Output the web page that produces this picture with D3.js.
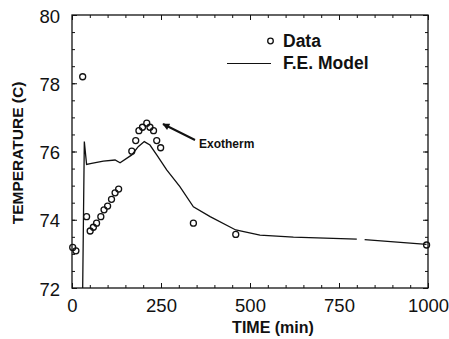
<!DOCTYPE html>
<html><head><meta charset="utf-8">
<script src="https://cdn.jsdelivr.net/npm/d3@7/dist/d3.min.js"></script>
<style>body{margin:0;background:#fff}svg{display:block}text{font-family:"Liberation Sans",Arial,sans-serif;fill:#111}</style>
</head><body>
<script>
const dataTime = [2, 11, 30, 41, 51, 60, 69, 81, 90, 100, 111, 121, 131, 168, 179, 188, 198, 210, 219, 229, 238, 249, 341, 460, 996];
const dataTemp = [73.19, 73.09, 78.19, 74.09, 73.67, 73.78, 73.9, 74.09, 74.29, 74.4, 74.6, 74.79, 74.9, 76.01, 76.32, 76.61, 76.71, 76.83, 76.71, 76.61, 76.32, 76.11, 73.9, 73.57, 73.26];
const modelTime = [30, 34.6, 41, 55, 88, 121, 135, 168, 186, 203, 219, 238, 266, 303, 341, 388, 460, 528, 622, 800, null, 822, 996];
const modelTemp = [72.0, 76.29, 75.62, 75.65, 75.72, 75.75, 75.67, 75.9, 76.14, 76.29, 76.19, 75.9, 75.46, 74.97, 74.38, 74.09, 73.70, 73.55, 73.49, 73.43, null, 73.42, 73.28];
const xTicks = [0, 250, 500, 750, 1000];
const yTicks = [72, 74, 76, 78, 80];
const xMinor = d3.range(0, 1001, 50);
const yMinor = d3.range(72, 80.01, 0.5);

const W = 449, H = 339;
const FONT = '"Liberation Sans",Arial,sans-serif';
const svg = d3.select("body").append("svg").attr("width", W).attr("height", H);
const x = d3.scaleLinear().domain([0, 1000]).range([72, 428]);
const y = d3.scaleLinear().domain([72, 80]).range([288, 15]);

const g = svg.append("g");
g.append("rect").attr("x", x(0)).attr("y", y(80)).attr("width", x(1000) - x(0)).attr("height", y(72) - y(80))
  .attr("fill", "none").attr("stroke", "#111").attr("stroke-width", 1.3);

function ticksAxis(axis, tr, vals, size) {
  const a = g.append("g").attr("transform", tr).call(axis.tickValues(vals).tickSize(size).tickFormat(""));
  a.select(".domain").remove();
  a.selectAll("line").attr("stroke", "#111").attr("stroke-width", 1);
}
ticksAxis(d3.axisBottom(x), `translate(0,${y(72)})`, xMinor, -3);
ticksAxis(d3.axisTop(x), `translate(0,${y(80)})`, xMinor, -3);
ticksAxis(d3.axisLeft(y), `translate(${x(0)},0)`, yMinor, -3);
ticksAxis(d3.axisRight(y), `translate(${x(1000)},0)`, yMinor, -3);
ticksAxis(d3.axisBottom(x), `translate(0,${y(72)})`, xTicks, -5);
ticksAxis(d3.axisTop(x), `translate(0,${y(80)})`, xTicks, -5);
ticksAxis(d3.axisLeft(y), `translate(${x(0)},0)`, yTicks, -5);
ticksAxis(d3.axisRight(y), `translate(${x(1000)},0)`, yTicks, -5);

const xl = g.append("g").attr("transform", `translate(0,${y(72)})`)
  .call(d3.axisBottom(x).tickValues(xTicks).tickSize(0).tickPadding(11).tickFormat(d3.format("d")));
xl.select(".domain").remove();
xl.selectAll("text").attr("font-size", 18.5).attr("font-family", FONT).attr("fill", "#111");
const yl = g.append("g").attr("transform", `translate(${x(0)},0)`)
  .call(d3.axisLeft(y).tickValues(yTicks).tickSize(0).tickPadding(12).tickFormat(d3.format("d")));
yl.select(".domain").remove();
yl.selectAll("text").attr("font-size", 18.5).attr("font-family", FONT).attr("fill", "#111").attr("dy", "0.38em");

svg.append("text").attr("x", 273).attr("y", 333).attr("text-anchor", "middle")
  .attr("font-size", 16).attr("font-weight", "bold").text("TIME (min)");
svg.append("text").attr("transform", `translate(22.5,153) rotate(-90)`).attr("text-anchor", "middle")
  .attr("font-size", 15.5).attr("font-weight", "bold").text("TEMPERATURE (C)");

const modelPts = modelTime.map((t, i) => [t, modelTemp[i]]);
const line = d3.line().defined(d => d[0] !== null).x(d => x(d[0])).y(d => y(d[1]));
g.append("path").datum(modelPts).attr("d", line).attr("fill", "none").attr("stroke", "#111").attr("stroke-width", 1.3);

g.selectAll("circle.pt").data(dataTime.map((t, i) => [t, dataTemp[i]])).join("circle").attr("class", "pt")
  .attr("cx", d => x(d[0])).attr("cy", d => y(d[1])).attr("r", 3)
  .attr("fill", "none").attr("stroke", "#111").attr("stroke-width", 1.3);

svg.append("circle").attr("cx", 270.5).attr("cy", 41).attr("r", 2.8).attr("fill", "none").attr("stroke", "#111").attr("stroke-width", 1.3);
svg.append("text").attr("x", 283).attr("y", 47).attr("font-size", 17.5).attr("font-weight", "bold").text("Data");
svg.append("line").attr("x1", 227).attr("x2", 271).attr("y1", 63.5).attr("y2", 63.5).attr("stroke", "#111").attr("stroke-width", 1.2);
svg.append("text").attr("x", 283).attr("y", 69).attr("font-size", 17.5).attr("font-weight", "bold").text("F.E. Model");

svg.append("defs").append("marker").attr("id", "ah").attr("viewBox", "0 0 10 10").attr("refX", 9).attr("refY", 5)
  .attr("markerWidth", 10).attr("markerHeight", 7).attr("orient", "auto").attr("markerUnits", "userSpaceOnUse")
  .append("path").attr("d", "M0,0 L10,5 L0,10 Z").attr("fill", "#111");
svg.append("line").attr("x1", 195).attr("y1", 140).attr("x2", 163).attr("y2", 124)
  .attr("stroke", "#111").attr("stroke-width", 2).attr("marker-end", "url(#ah)");
svg.append("text").attr("x", 199).attr("y", 147.5).attr("font-size", 12).attr("font-weight", "bold").text("Exotherm");
</script>
</body></html>
